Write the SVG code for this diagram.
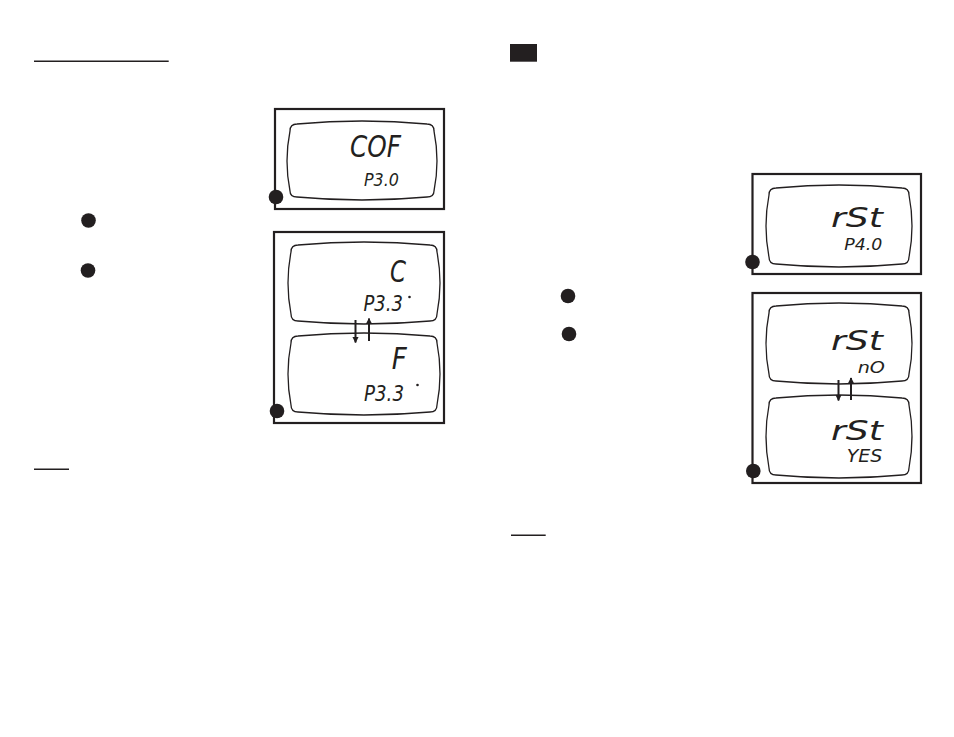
<svg xmlns="http://www.w3.org/2000/svg" width="954" height="737" viewBox="0 0 954 737">
<style>
.frame{fill:none;stroke:#231f20;stroke-width:2.2}
.lcd{fill:#fff;stroke:#231f20;stroke-width:1.3}
.dot{fill:#231f20}
.rule{stroke:#231f20;stroke-width:1.4}
.seg{font-family:"DejaVu Sans","Liberation Sans",sans-serif;font-style:italic;font-weight:normal;fill:#231f20}
.arrow{stroke:#231f20;stroke-width:2;fill:none}
</style>
<defs>
<marker id="ah" viewBox="0 0 10 10" refX="9" refY="5" markerWidth="3.2" markerHeight="3.2" orient="auto" markerUnits="strokeWidth">
<path d="M0,0 L10,5 L0,10 Z" fill="#231f20"/>
</marker>
</defs>
<rect width="954" height="737" fill="#fff"/>

<g id="header-left"><line class="rule" x1="34" y1="61.3" x2="168.7" y2="61.3"/></g>
<g id="header-right"><rect x="510" y="44" width="27" height="17.7" fill="#231f20"/></g>
<g id="bullets-left"><circle class="dot" cx="88.5" cy="220.5" r="7.3"/><circle class="dot" cx="88" cy="270.5" r="7.3"/></g>
<g id="bullets-right"><circle class="dot" cx="568" cy="296" r="7.3"/><circle class="dot" cx="569" cy="334" r="7.3"/></g>
<g id="note-left"><line class="rule" x1="34" y1="469.3" x2="69" y2="469.3"/></g>
<g id="note-right"><line class="rule" x1="511" y1="535.3" x2="545.7" y2="535.3"/></g>

<g id="panel1">
<rect class="frame" x="275" y="109" width="169" height="100"/>
<path class="lcd" d="M297,124 Q362,118 427,124 Q434,124 434,131 Q440,161 434,191 Q434,197 427,197 Q362,203 297,197 Q290,197 290,191 Q284,161 290,131 Q290,124 297,124 Z"/>
<text class="seg" x="350" y="157.3" font-size="31" textLength="51" lengthAdjust="spacingAndGlyphs">COF</text>
<text class="seg" x="364" y="186" font-size="17.5" textLength="35" lengthAdjust="spacingAndGlyphs">P3.0</text>
<circle class="dot" cx="276" cy="197" r="7.3"/>
</g>

<g id="panel2">
<rect class="frame" x="274" y="232" width="170" height="191"/>
<path class="lcd" d="M298,245 Q364,239 430,245 Q437,245 437,252 Q443,283 437,314 Q437,321 430,321 Q364,327 298,321 Q291,321 291,314 Q285,283 291,252 Q291,245 298,245 Z"/>
<path class="lcd" d="M298,336 Q364,330 430,336 Q437,336 437,343 Q443,374 437,405 Q437,412 430,412 Q364,418 298,412 Q291,412 291,405 Q285,374 291,343 Q291,336 298,336 Z"/>
<text class="seg" x="390" y="282" font-size="31" textLength="16" lengthAdjust="spacingAndGlyphs">C</text>
<text class="seg" x="363.5" y="311" font-size="20.5" textLength="39.5" lengthAdjust="spacingAndGlyphs">P3.3</text>
<circle class="dot" cx="409.5" cy="297" r="1.3"/>
<text class="seg" x="391.7" y="369.3" font-size="31" textLength="15" lengthAdjust="spacingAndGlyphs">F</text>
<text class="seg" x="364" y="401" font-size="20.5" textLength="40" lengthAdjust="spacingAndGlyphs">P3.3</text>
<circle class="dot" cx="417.5" cy="385" r="1.3"/>
<circle class="dot" cx="277" cy="411" r="7.3"/>
</g>

<g id="panel3">
<rect class="frame" x="752.5" y="174" width="168.5" height="100"/>
<path class="lcd" d="M776,188 Q839,182 902,188 Q909,188 909,195 Q915,226 909,257 Q909,264 902,264 Q839,270 776,264 Q769,264 769,257 Q763,226 769,195 Q769,188 776,188 Z"/>
<text class="seg" x="831" y="226.7" font-size="26" textLength="52" lengthAdjust="spacingAndGlyphs">rSt</text>
<text class="seg" x="844.3" y="250" font-size="16.5" textLength="38" lengthAdjust="spacingAndGlyphs">P4.0</text>
<circle class="dot" cx="752.5" cy="262" r="7.3"/>
</g>

<g id="panel4">
<rect class="frame" x="752.5" y="293" width="168.5" height="190"/>
<path class="lcd" d="M776,306 Q839,300 902,306 Q909,306 909,313 Q915,343.5 909,374 Q909,381 902,381 Q839,387 776,381 Q769,381 769,374 Q763,343.5 769,313 Q769,306 776,306 Z"/>
<path class="lcd" d="M776,398 Q839,392 902,398 Q909,398 909,405 Q915,436.5 909,468 Q909,475 902,475 Q839,481 776,475 Q769,475 769,468 Q763,436.5 769,405 Q769,398 776,398 Z"/>
<text class="seg" x="831" y="349.7" font-size="26" textLength="52" lengthAdjust="spacingAndGlyphs">rSt</text>
<text class="seg" x="857.7" y="373" font-size="16.5" textLength="27.3" lengthAdjust="spacingAndGlyphs">nO</text>
<text class="seg" x="831" y="439.7" font-size="26" textLength="52" lengthAdjust="spacingAndGlyphs">rSt</text>
<text class="seg" x="846.7" y="462.3" font-size="17.5" textLength="35.6" lengthAdjust="spacingAndGlyphs">YES</text>
<circle class="dot" cx="753.3" cy="471" r="7.3"/>
</g>

<g id="connectors">
<line class="arrow" x1="355.5" y1="320" x2="355.5" y2="342.5" marker-end="url(#ah)"/>
<line class="arrow" x1="369" y1="341" x2="369" y2="318.5" marker-end="url(#ah)"/>
<line class="arrow" x1="838.5" y1="380" x2="838.5" y2="400.5" marker-end="url(#ah)"/>
<line class="arrow" x1="851" y1="400" x2="851" y2="378" marker-end="url(#ah)"/>
</g>
</svg>
